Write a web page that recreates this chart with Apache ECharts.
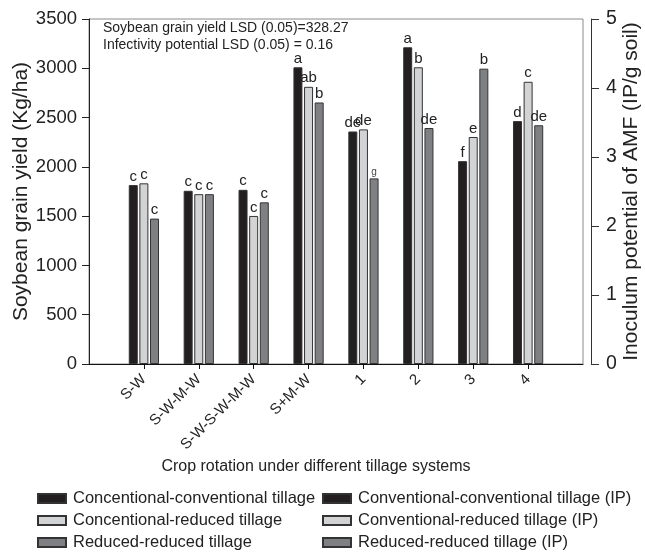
<!DOCTYPE html>
<html>
<head>
<meta charset="utf-8">
<script src="https://cdn.jsdelivr.net/npm/echarts@6/dist/echarts.min.js"></script>
<style>
  html, body { margin: 0; padding: 0; background: #fff; }
  #container { width: 645px; height: 552px; }
</style>
</head>
<body>
<div id="container"></div>
<script>
// categories (empty slots at both ends keep the axis padding of the original)
var categories = ['', 'S-W', 'S-W-M-W', 'S-W-S-W-M-W', 'S+M-W', '1', '2', '3', '4', ''];

// soybean grain yield (Kg/ha) for the four rotations
var yieldCC = [1815, 1757, 1767, 3010];
var yieldCR = [1833, 1723, 1502, 2812];
var yieldRR = [1475, 1723, 1640, 2653];
var yieldLetters = [
  ['c', 'c', 'c', 'a'],
  ['c', 'c', 'c', 'ab'],
  ['c', 'c', 'c', 'b']
];

// inoculum potential of AMF (IP/g soil) for treatments 1-4
var ipCC = [3.37, 4.59, 2.94, 3.52];
var ipCR = [3.40, 4.30, 3.29, 4.09];
var ipRR = [2.69, 3.42, 4.28, 3.46];
var ipLetters = [
  ['de', 'a', 'f', 'd'],
  ['de', 'b', 'e', 'c'],
  ['g', 'de', 'b', 'de']
];

var seriesNames = [
  'Concentional-conventional tillage',
  'Concentional-reduced tillage',
  'Reduced-reduced tillage',
  'Conventional-conventional tillage (IP)',
  'Conventional-reduced tillage (IP)',
  'Reduced-reduced tillage (IP)'
];
var colors = ['#231f20', '#d1d3d4', '#7f8083'];

function padYield(arr) { return [null].concat(arr, [null, null, null, null, null]); }
function padIP(arr) { return [null, null, null, null, null].concat(arr, [null]); }

var dom = document.getElementById('container');
var myChart = echarts.init(dom, null, { renderer: 'canvas' });

function makeSeries(i, values, letters, isIP) {
  return {
    name: seriesNames[i],
    type: 'bar',
    xAxisIndex: isIP ? 1 : 0,
    yAxisIndex: isIP ? 1 : 0,
    barWidth: 9,
    barGap: '18%',
    data: values,
    itemStyle: { color: colors[i % 3], borderColor: '#333', borderWidth: 1 },
    label: {
      show: true,
      position: 'top',
      distance: 1,
      color: '#222',
      fontSize: 15,
      fontFamily: 'Liberation Sans',
      formatter: function (p) {
        var k = isIP ? p.dataIndex - 5 : p.dataIndex - 1;
        var t = letters[k];
        return t === 'g' ? '{s|g}' : t;
      },
      rich: { s: { fontSize: 10, fontFamily: 'Liberation Sans', color: '#444' } }
    }
  };
}

// one legend per entry: two columns of three rows
var legends = seriesNames.map(function (n, i) {
  return {
    data: [n],
    left: i < 3 ? 37 : 322,
    top: 490 + (i % 3) * 22,
    icon: 'rect',
    itemWidth: 28, itemHeight: 9, itemGap: 0,
    padding: 0,
    textStyle: { fontSize: 16.5, color: '#222', fontFamily: 'Liberation Sans', padding: [0, 0, 0, 2] }
  };
});

var option = {
  backgroundColor: '#fff',
  textStyle: { fontFamily: 'Liberation Sans' },
  animation: false,
  grid: {
    left: 89, right: 62, top: 19, bottom: 188,
    outerBoundsMode: 'none',
    show: true, borderColor: '#8a8a8a', borderWidth: 1
  },
  legend: legends,
  graphic: [
    { type: 'text', left: 103, top: 21, style: { text: 'Soybean grain yield LSD (0.05)=328.27', fontSize: 14, fill: '#222', fontFamily: 'Liberation Sans' } },
    { type: 'text', left: 103, top: 38, style: { text: 'Infectivity potential LSD (0.05) = 0.16', fontSize: 14, fill: '#222', fontFamily: 'Liberation Sans' } },
    { type: 'text', x: 316, y: 467, style: { text: 'Crop rotation under different tillage systems', fontSize: 16, fill: '#222', fontFamily: 'Liberation Sans', align: 'center', verticalAlign: 'middle' } }
  ],
  xAxis: [
    {
      type: 'category',
      data: categories,
      boundaryGap: false,
      axisLine: { lineStyle: { color: '#111', width: 1 } },
      axisTick: {
        alignWithLabel: true, length: 5,
        interval: function (i) { return i > 0 && i < categories.length - 1; },
        lineStyle: { color: '#111' }
      },
      axisLabel: {
        interval: 0, rotate: 45, fontSize: 15, color: '#222', margin: 13
      }
    },
    {
      type: 'category',
      data: categories,
      boundaryGap: false,
      show: false
    }
  ],
  yAxis: [
    {
      type: 'value',
      min: 0, max: 3500, interval: 500,
      axisLine: { show: true, lineStyle: { color: '#222' } },
      axisTick: { show: true, length: 7, lineStyle: { color: '#222' } },
      axisLabel: { fontSize: 18.5, color: '#222', margin: 12, formatter: function (v) { return String(v); } },
      splitLine: { show: false },
      name: 'Soybean grain yield (Kg/ha)',
      nameLocation: 'middle',
      nameGap: 57,
      nameMoveOverlap: false,
      nameTextStyle: { fontSize: 21, color: '#222' }
    },
    {
      type: 'value',
      position: 'right',
      offset: 8,
      min: 0, max: 5, interval: 1,
      axisLine: { show: true, lineStyle: { color: '#333' } },
      axisTick: { show: true, length: 8, lineStyle: { color: '#333' } },
      axisLabel: { fontSize: 19.5, color: '#222', margin: 15 },
      splitLine: { show: false },
      name: 'Inoculum potential of AMF (IP/g soil)',
      nameLocation: 'middle',
      nameRotate: 90,
      nameGap: 30,
      nameMoveOverlap: false,
      nameTextStyle: { fontSize: 21, color: '#222' }
    }
  ],
  series: [
    makeSeries(0, padYield(yieldCC), yieldLetters[0], false),
    makeSeries(1, padYield(yieldCR), yieldLetters[1], false),
    makeSeries(2, padYield(yieldRR), yieldLetters[2], false),
    makeSeries(3, padIP(ipCC), ipLetters[0], true),
    makeSeries(4, padIP(ipCR), ipLetters[1], true),
    makeSeries(5, padIP(ipRR), ipLetters[2], true)
  ]
};

myChart.setOption(option);
window.addEventListener('resize', myChart.resize);
</script>
</body>
</html>
